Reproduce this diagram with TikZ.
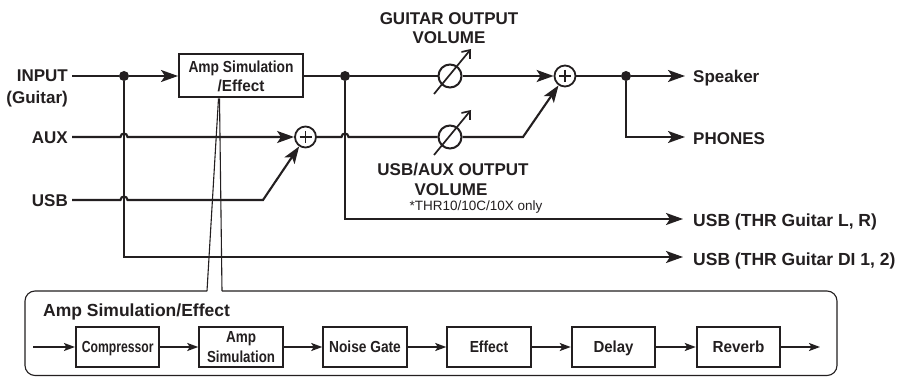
\documentclass[tikz,border=0pt]{standalone}
\usepackage{fontspec}
\usepackage{graphicx}
\setmainfont{Liberation Sans}
\usetikzlibrary{arrows.meta,calc}
\definecolor{ink}{HTML}{231F20}
\newcommand{\sqz}[2]{\resizebox{#1pt}{\height}{#2}}
\begin{document}
\begin{tikzpicture}[x=1pt,y=-1pt,
  every node/.style={text=ink},
  sig/.style={draw=ink, line width=2.1pt},
  arr/.style={-{Stealth[length=17pt,width=12pt,inset=4pt]}},
  sarr/.style={draw=ink, line width=1.6pt, -{Stealth[length=11pt,width=8pt,inset=2.5pt]}},
  thinline/.style={draw=ink, line width=1.1pt},
  knobarr/.style={draw=ink, line width=1.7pt, -{Straight Barb[length=7pt,width=11pt]}},
  plusline/.style={draw=ink, line width=1.4pt},
  dot/.style={circle, fill=ink, inner sep=0pt, minimum size=10pt},
  knob/.style={circle, draw=ink, line width=2pt, inner sep=0pt, minimum size=23pt},
  sumnode/.style={circle, draw=ink, line width=1.8pt, inner sep=0pt, minimum size=21pt},
  lbl/.style={font=\fontsize{17}{20}\selectfont\bfseries, inner sep=0pt},
  lblb/.style={font=\fontsize{17.5}{20}\selectfont\bfseries, inner sep=0pt},
  note/.style={font=\fontsize{13.5}{16}\selectfont, inner sep=0pt},
  topbox/.style={draw=ink, line width=2pt, minimum width=124pt, minimum height=43pt, inner sep=0pt, align=center, font=\fontsize{16}{19}\selectfont\bfseries},
  fxbox/.style={draw=ink, line width=2pt, minimum width=83.5pt, minimum height=40pt, inner sep=0pt, font=\fontsize{16}{19.5}\selectfont\bfseries, text height=11.5pt, text depth=0pt},
  fxboxtwo/.style={draw=ink, line width=2pt, minimum width=83.5pt, minimum height=40pt, inner sep=0pt, align=center, font=\fontsize{16}{19.4}\selectfont\bfseries},
]
\fill[white] (0,0) rectangle (907,377);
\useasboundingbox (0,0) rectangle (907,377);

% ---- left labels
\node[lbl, anchor=base east] (linput) at (68,81.8) {INPUT};
\node[lbl, anchor=base east] (lguitar) at (68,103.3) {(Guitar)};
\node[lbl, anchor=base east] (laux) at (68,143.3) {AUX};
\node[lbl, anchor=base east] (lusb) at (68,206.7) {USB};

% ---- right labels
\node[lbl, anchor=base west] (lspk) at (693,82.5) {Speaker};
\node[lbl, anchor=base west] (lph) at (693,144) {PHONES};
\node[lblb, anchor=base west] (llr) at (693,226.5) {USB (THR Guitar L, R)};
\node[lblb, anchor=base west] (ldi) at (693,265) {USB (THR Guitar DI 1, 2)};

% ---- volume labels
\node[lbl, anchor=base] (lgv1) at (449,25) {GUITAR OUTPUT};
\node[lbl, anchor=base] (lgv2) at (449,43.5) {VOLUME};
\node[lbl, anchor=base] (luv1) at (453,175) {USB/AUX OUTPUT};
\node[lbl, anchor=base] (luv2) at (451,195) {VOLUME};
\node[note, anchor=base] (lnote) at (476,210.5) {*THR10/10C/10X only};

% ---- coordinates
\coordinate (inS) at (72,76);
\coordinate (auxS) at (72,137);
\coordinate (usbS) at (72,200);
\coordinate (bend1) at (263,200);
\coordinate (bend2) at (523,137);
\coordinate (spkT) at (685,76);
\coordinate (phT) at (685,137);
\coordinate (lrT) at (683,219);
\coordinate (diT) at (683,257);

% ---- nodes
\node[dot] (d1) at (124,76) {};
\node[topbox] (amp) at (241,76) {\sqz{105}{Amp Simulation}\\\sqz{46.7}{/Effect}};
\node[dot] (d2) at (345,76) {};
\node[knob] (k1) at (450,76) {};
\node[sumnode] (s2) at (565,76) {};
\node[dot] (d3) at (626,76) {};
\node[sumnode] (s1) at (305.5,137) {};
\node[knob] (k2) at (450,137) {};

% plus signs
\draw[plusline] ($(s1)+(-6,0)$) -- ($(s1)+(6,0)$) ($(s1)+(0,-6)$) -- ($(s1)+(0,6)$);
\draw[plusline] ($(s2)+(-6,0)$) -- ($(s2)+(6,0)$) ($(s2)+(0,-6)$) -- ($(s2)+(0,6)$);

% knob arrows
\draw[knobarr] ($(k1)+(-16,18)$) -- ($(k1)+(21,-27)$);
\draw[knobarr] ($(k2)+(-16,18)$) -- ($(k2)+(21,-27)$);

% ---- main signal path
\draw[sig] (inS) -- (d1);
\draw[sig,arr] (d1) -- (amp);
\draw[sig] (amp) -- (d2) -- (k1);
\draw[sig,arr] (k1) -- (s2);
\draw[sig] (s2) -- (d3);
\draw[sig,arr] (d3) -- (spkT);
\draw[sig,arr] (d3) |- (phT);
\draw[sig,arr] (d2) |- (lrT);
\draw[sig,arr] (d1) |- (diT);

% AUX path with hops
\draw[sig,arr] (auxS) -- ($(auxS -| d1)+(-3.5,0)$) .. controls +(0,-4.6) and +(0,-4.6) .. ($(auxS -| d1)+(3.5,0)$) -- (s1);
\draw[sig] (s1) -- ($(s1 -| d2)+(-3.5,0)$) .. controls +(0,-4.6) and +(0,-4.6) .. ($(s1 -| d2)+(3.5,0)$) -- (k2);
\draw[sig,arr] (k2) -- (bend2) -- (s2);

% USB path with hop
\draw[sig,arr] (usbS) -- ($(usbS -| d1)+(-3.5,0)$) .. controls +(0,-4.6) and +(0,-4.6) .. ($(usbS -| d1)+(3.5,0)$) -- (bend1) -- (s1);

% ---- detail callout
\coordinate (c1) at (207,291);
\coordinate (c2) at (222,291);
\draw[thinline] ($(amp.south)+(-22.5,0)$) -- (c1);
\draw[thinline] ($(amp.south)+(-21.5,0)$) -- (c2);
\draw[thinline, rounded corners=10pt] (c1) -- (25,291) -- (25,375.5) -- (837,375.5) -- (837,291) -- (c2);

\node[lblb, anchor=base west] (ltitle) at (43,316) {Amp Simulation/Effect};

\coordinate (bin) at (33,347);
\coordinate (bout) at (820,347);
\node[fxbox] (comp) at (117.7,347) {\sqz{71.7}{Compressor}};
\node[fxboxtwo] (amps) at (241,347) {\sqz{30}{Amp}\\\sqz{68}{Simulation}};
\node[fxbox] (ngate) at (365,347) {\sqz{71.7}{Noise Gate}};
\node[fxbox] (eff) at (489,347) {\sqz{38.5}{Effect}};
\node[fxbox] (dly) at (613.5,347) {\sqz{40}{Delay}};
\node[fxbox] (rev) at (738.5,347) {\sqz{51.7}{Reverb}};

\draw[sarr] (bin) -- (comp);
\draw[sarr] (comp) -- (amps);
\draw[sarr] (amps) -- (ngate);
\draw[sarr] (ngate) -- (eff);
\draw[sarr] (eff) -- (dly);
\draw[sarr] (dly) -- (rev);
\draw[sarr] (rev) -- (bout);
\end{tikzpicture}
\end{document}
